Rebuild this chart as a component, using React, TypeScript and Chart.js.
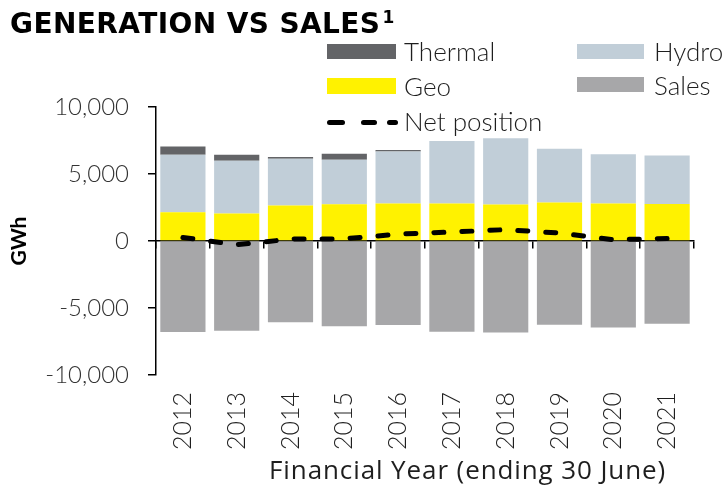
import React, { useEffect, useRef } from "react";
import { Chart, registerables } from "chart.js";

Chart.register(...registerables);

const years = ["2012", "2013", "2014", "2015", "2016", "2017", "2018", "2019", "2020", "2021"];
const geo = [2150, 2050, 2650, 2740, 2800, 2800, 2720, 2870, 2800, 2770];
const hydro = [4280, 3940, 3480, 3320, 3880, 4670, 4950, 4010, 3680, 3610];
const thermal = [620, 440, 130, 450, 120, 0, 0, 0, 0, 0];
const sales = [-6790, -6700, -6070, -6370, -6270, -6770, -6830, -6250, -6450, -6170];
const netPosition = [260, -280, 140, 160, 510, 670, 850, 590, 100, 180];
const yTicks = [-10000, -5000, 0, 5000, 10000];

const FONT = "Lato, 'Open Sans', sans-serif";
const C_THERMAL = "#636467";
const C_HYDRO = "#c1ced8";
const C_GEO = "#fff200";
const C_SALES = "#a7a7a9";
const TEXT = "#1e1e1e";

export default function App() {
  const ref = useRef<HTMLCanvasElement | null>(null);

  useEffect(() => {
    if (!ref.current) return;
    const chart = new Chart(ref.current, {
      type: "bar",
      data: {
        labels: years,
        datasets: [
          { type: "bar", label: "Geo", data: geo, backgroundColor: C_GEO, stack: "s", order: 1 },
          { type: "bar", label: "Hydro", data: hydro, backgroundColor: C_HYDRO, stack: "s", order: 1 },
          { type: "bar", label: "Thermal", data: thermal, backgroundColor: C_THERMAL, stack: "s", order: 1 },
          { type: "bar", label: "Sales", data: sales, backgroundColor: C_SALES, stack: "s", order: 1 },
          {
            type: "line",
            label: "Net position",
            data: netPosition,
            stack: "net",
            borderColor: "#000",
            borderWidth: 5,
            borderDash: [10, 18],
            borderCapStyle: "round",
            pointRadius: 0,
            tension: 0,
            fill: false,
            order: 0,
          } as any,
        ],
      },
      options: {
        responsive: false,
        animation: false,
        layout: { padding: { top: 107, right: 31, left: 0, bottom: 0 } },
        datasets: { bar: { categoryPercentage: 1, barPercentage: 0.84 } },
        plugins: { legend: { display: false }, title: { display: false }, tooltip: { enabled: false } },
        scales: {
          x: {
            stacked: true,
            grid: { display: false, drawTicks: false },
            border: { display: false },
            ticks: {
              minRotation: 90,
              maxRotation: 90,
              padding: 17,
              color: TEXT,
              font: { family: FONT, size: 25, weight: 300 as any },
            },
            afterFit: (s: any) => {
              s.height = 112;
            },
          },
          x2: {
            type: "category",
            labels: years,
            position: { y: 0 } as any,
            offset: true,
            grid: { offset: true, drawOnChartArea: false, color: "#000", tickLength: 7, lineWidth: 1.5 },
            border: { display: true, color: "#000", width: 1.5 },
            ticks: { display: false },
          } as any,
          y: {
            stacked: true,
            min: -10000,
            max: 10000,
            afterBuildTicks: (s: any) => {
              s.ticks = yTicks.map((v) => ({ value: v }));
            },
            grid: { drawOnChartArea: false, color: "#000", tickLength: 8, lineWidth: 1.5 },
            border: { display: true, color: "#000", width: 1.5 },
            ticks: {
              padding: 19,
              color: "#333",
              font: { family: FONT, size: 24, weight: 300 as any },
              callback: (v: any) => Number(v).toLocaleString("en-US"),
            },
            title: {
              display: true,
              text: "GWh",
              color: "#000",
              font: { family: FONT, size: 21, weight: "bold" },
              padding: { top: 7, bottom: 0 },
            },
            afterFit: (s: any) => {
              s.width = 156;
            },
          },
        },
      },
    });
    return () => chart.destroy();
  }, []);

  const legendText: React.CSSProperties = {
    position: "absolute",
    fontFamily: FONT,
    fontWeight: 300,
    fontSize: 26,
    lineHeight: "30px",
    color: TEXT,
    whiteSpace: "nowrap",
  };
  const box = (left: number, top: number, w: number, h: number, color: string): React.CSSProperties => ({
    position: "absolute",
    left,
    top,
    width: w,
    height: h,
    background: color,
  });
  const dash = (left: number, w: number): React.CSSProperties => ({
    position: "absolute",
    left,
    top: 119.5,
    width: w,
    height: 5,
    borderRadius: 2.5,
    background: "#000",
  });

  return (
    <div style={{ position: "fixed", left: 0, top: 0, width: 725, height: 487, background: "#fff", overflow: "hidden" }}>
      <canvas ref={ref} width={725} height={487} style={{ position: "absolute", left: 0, top: 0 }} />
      <div
        style={{
          position: "absolute",
          left: 10,
          top: 6,
          fontFamily: "'DejaVu Sans', sans-serif",
          fontWeight: 700,
          fontSize: 28,
          letterSpacing: 0.4,
          lineHeight: "36px",
          color: "#000",
          whiteSpace: "nowrap",
        }}
      >
        GENERATION VS SALES
        <span style={{ fontSize: 17, position: "relative", top: -10, marginLeft: 2 }}>1</span>
      </div>
      <div style={box(327, 44, 69, 15, C_THERMAL)} />
      <div style={{ ...legendText, left: 404, top: 36 }}>Thermal</div>
      <div style={box(577, 44, 67, 15, C_HYDRO)} />
      <div style={{ ...legendText, left: 654, top: 36 }}>Hydro</div>
      <div style={box(327, 78, 69, 16, C_GEO)} />
      <div style={{ ...legendText, left: 404, top: 71 }}>Geo</div>
      <div style={box(577, 77, 67, 15, C_SALES)} />
      <div style={{ ...legendText, left: 654, top: 70 }}>Sales</div>
      <div style={dash(327, 18)} />
      <div style={dash(361, 16)} />
      <div style={dash(387, 11)} />
      <div style={{ ...legendText, left: 404, top: 106 }}>Net position</div>
      <div
        style={{
          position: "absolute",
          left: 269,
          top: 454,
          fontFamily: "'Open Sans', Lato, sans-serif",
          fontWeight: 400,
          fontSize: 26,
          letterSpacing: 0.9,
          lineHeight: "30px",
          color: TEXT,
          whiteSpace: "nowrap",
        }}
      >
        Financial Year (ending 30 June)
      </div>
    </div>
  );
}
